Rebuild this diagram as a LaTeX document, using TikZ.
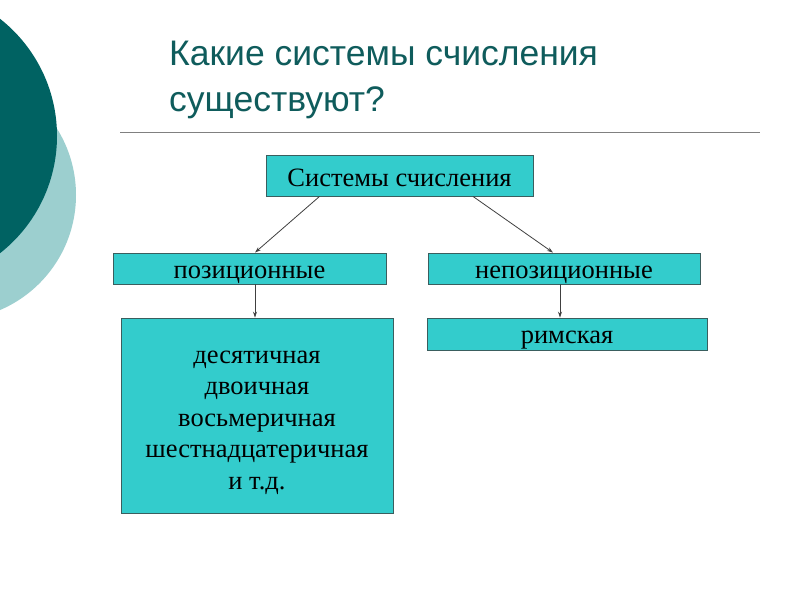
\documentclass[tikz,border=0pt]{standalone}
\usepackage{fontspec}
\setmainfont{Liberation Serif}
\newfontfamily\titlefont{Liberation Sans}
\usetikzlibrary{arrows.meta}
\definecolor{boxfill}{HTML}{33CCCC}
\definecolor{boxline}{HTML}{3A5E5E}
\definecolor{darkcirc}{HTML}{006262}
\definecolor{lightcirc}{HTML}{9CCFCF}
\definecolor{titlecol}{HTML}{0F5C5C}
\tikzset{
  boxbase/.style={draw=boxline, line width=0.9pt, fill=boxfill, inner sep=0pt,
    font=\fontsize{26.5}{31.5}\selectfont, text=black},
  box/.style={boxbase, text height=19.5pt, text depth=0pt},
  listtext/.style={inner sep=0pt, align=center, font=\fontsize{26.5}{31.5}\selectfont, text=black},
  conn/.style={draw=black!75, line width=0.8pt, -{Stealth[length=6pt,width=4pt]}},
  ttl/.style={anchor=base west, text=titlecol, font=\titlefont\fontsize{35.5}{40}\selectfont, inner sep=0pt},
}
\begin{document}
\begin{tikzpicture}[x=1pt,y=-1pt]
\useasboundingbox (0,0) rectangle (800,600);
\fill[white] (0,0) rectangle (800,600);
\begin{scope}
\clip (0,0) rectangle (800,600);
\fill[lightcirc] (-49,195) circle (125);
\fill[darkcirc] (-92,136) circle (149);
\end{scope}
\node[ttl] (t1) at (169,65) {Какие системы счисления};
\node[ttl] (t2) at (169,111) {существуют?};
\coordinate (rl) at (120,132);
\coordinate (rr) at (760,132);
\draw[gray, line width=1pt] (rl) -- (rr);
\node[box, minimum width=267, minimum height=41, text height=21.5pt] (root) at (399.5,175.5) {Системы счисления};
\node[box, minimum width=273, minimum height=31] (pos) at (249.5,268.5) {позиционные};
\node[box, minimum width=272, minimum height=31] (npos) at (564,268.5) {непозиционные};
\node[boxbase, minimum width=272, minimum height=195] (list) at (257,415.5) {};
\node[listtext] (listtxt) at (257,422.5) {десятичная\\двоичная\\восьмеричная\\шестнадцатеричная\\и т.д.};
\node[box, minimum width=280, minimum height=32, text height=18.5pt] (rim) at (567,334) {римская};
\draw[conn] ([xshift=-80]root.south) -- ([xshift=5.5]pos.north);
\draw[conn] ([xshift=73.5]root.south) -- ([xshift=-11]npos.north);
\draw[conn] ([xshift=5.5]pos.south) -- ([xshift=-2]list.north);
\draw[conn] ([xshift=-4]npos.south) -- ([xshift=-7]rim.north);
\end{tikzpicture}
\end{document}
